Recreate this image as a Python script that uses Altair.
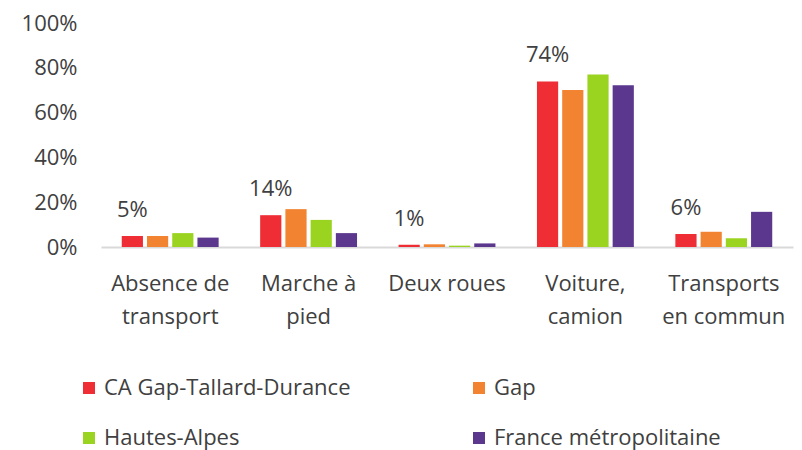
import altair as alt
import pandas as pd

categories = ["Absence de\ntransport", "Marche à\npied", "Deux roues", "Voiture,\ncamion", "Transports\nen commun"]
series = ["CA Gap-Tallard-Durance", "Gap", "Hautes-Alpes", "France métropolitaine"]
colors = ["#EE2D34", "#F28431", "#9AD420", "#5B378E"]

values = {
    "CA Gap-Tallard-Durance": [0.049, 0.142, 0.010, 0.739, 0.058],
    "Gap": [0.049, 0.169, 0.012, 0.701, 0.068],
    "Hautes-Alpes": [0.062, 0.121, 0.006, 0.770, 0.039],
    "France métropolitaine": [0.042, 0.062, 0.016, 0.722, 0.157],
}

rows = []
for s in series:
    for c, v in zip(categories, values[s]):
        rows.append({"cat": c, "series": s, "value": v})
df = pd.DataFrame(rows)

FONT = "Open Sans"
TXT = "#404040"

x = alt.X("cat:N", sort=categories, title=None,
          scale=alt.Scale(paddingInner=0.3, paddingOuter=0.15),
          axis=alt.Axis(labelAngle=0, labelExpr="split(datum.label, '\\n')",
                        labelFont=FONT, labelFontSize=22, labelColor=TXT,
                        labelLineHeight=33, labelPadding=26, ticks=False,
                        domainColor="#D9D9D9", domainWidth=2, labelLimit=200))
xo = alt.XOffset("series:N", sort=series,
                 scale=alt.Scale(domain=series, paddingInner=0.16, paddingOuter=0))
y = alt.Y("value:Q", title=None,
          scale=alt.Scale(domain=[0, 1], nice=False),
          axis=alt.Axis(values=[0, 0.2, 0.4, 0.6, 0.8, 1.0], format=".0%",
                        labelFont=FONT, labelFontSize=22, labelColor=TXT,
                        labelPadding=24, ticks=False, domain=False, grid=False))

bars = alt.Chart(df).mark_bar().encode(
    x=x, xOffset=xo, y=y,
    color=alt.Color("series:N", sort=series,
                    scale=alt.Scale(domain=series, range=colors),
                    legend=alt.Legend(title=None, orient="none", legendX=-23, legendY=354,
                                      direction="horizontal",
                                      columns=2, columnPadding=117, rowPadding=28,
                                      symbolType="square", symbolSize=144,
                                      symbolStrokeWidth=0, labelOffset=4,
                                      labelFont=FONT, labelFontSize=22, labelColor=TXT,
                                      labelLimit=400)),
)

labels = alt.Chart(df).transform_filter(
    alt.datum.series == series[0]
).mark_text(font=FONT, fontSize=22, color=TXT, baseline="alphabetic", dy=-19).encode(
    x=x, xOffset=xo, y=y,
    text=alt.Text("value:Q", format=".0%"),
)

chart = alt.layer(bars, labels).properties(
    width=692, height=224,
    autosize=alt.AutoSizeParams(type="none"),
    padding={"left": 93, "top": 15, "right": 1, "bottom": 210},
).configure_view(stroke=None)

chart.save("out.html", embed_options={"renderer": "svg", "actions": False})
